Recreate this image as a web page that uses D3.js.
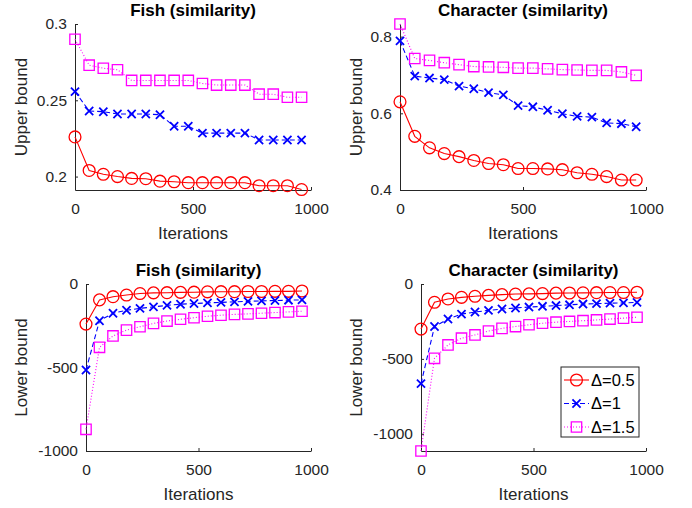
<!DOCTYPE html>
<html>
<head>
<meta charset="utf-8">
<script src="https://cdn.jsdelivr.net/npm/d3@7"></script>
<style>
  body { margin: 0; background: #fff; }
  svg { display: block; font-family: "Liberation Sans", Arial, Helvetica, sans-serif; }
</style>
</head>
<body>
<svg id="chart" width="692" height="508"></svg>
<script>
// x positions of the markers (iterations)
const iterations = [0, 60, 120, 180, 240, 300, 360, 420, 480, 540, 600, 660, 720, 780, 840, 900, 960];
const xTicks = [0, 500, 1000];
const deltaLabels = ["\u0394=0.5", "\u0394=1", "\u0394=1.5"];

// Fish (similarity), upper bound
const fishUpper05 = [0.226, 0.204, 0.2015, 0.2, 0.1988, 0.1986, 0.197, 0.1966, 0.196, 0.196, 0.196, 0.196, 0.196, 0.194, 0.194, 0.194, 0.1915];
const fishUpper1 = [0.2557, 0.243, 0.2425, 0.241, 0.241, 0.241, 0.2405, 0.233, 0.233, 0.2285, 0.2285, 0.2285, 0.2285, 0.224, 0.224, 0.224, 0.224];
const fishUpper15 = [0.290, 0.273, 0.271, 0.270, 0.263, 0.263, 0.263, 0.263, 0.263, 0.261, 0.260, 0.260, 0.260, 0.254, 0.254, 0.252, 0.252];

// Character (similarity), upper bound
const charUpper05 = [0.630, 0.540, 0.510, 0.495, 0.487, 0.477, 0.469, 0.466, 0.456, 0.456, 0.455, 0.453, 0.445, 0.441, 0.435, 0.426, 0.426];
const charUpper1 = [0.789, 0.697, 0.692, 0.688, 0.671, 0.664, 0.654, 0.648, 0.620, 0.617, 0.608, 0.599, 0.592, 0.590, 0.575, 0.573, 0.565];
const charUpper15 = [0.833, 0.743, 0.738, 0.732, 0.727, 0.722, 0.721, 0.720, 0.718, 0.718, 0.716, 0.714, 0.713, 0.712, 0.712, 0.708, 0.699];

// Fish (similarity), lower bound
const fishLower05 = [-240, -95, -76, -66, -57, -53, -52, -50, -49, -47, -46, -46, -45, -45, -44, -44, -42];
const fishLower1 = [-515, -220, -175, -157, -146, -137, -128, -121, -117, -113, -110, -107, -104, -101, -99, -97, -95];
const fishLower15 = [-870, -379, -311, -276, -256, -236, -222, -211, -202, -193, -187, -182, -179, -175, -171, -167, -163];

// Character (similarity), lower bound
const charLower05 = [-301, -122, -100, -89, -82, -76, -71, -67, -66, -64, -61, -60, -59, -58, -57, -57, -55];
const charLower1 = [-665, -284, -234, -201, -187, -176, -167, -160, -154, -149, -144, -139, -134, -131, -128, -126, -123];
const charLower15 = [-1115, -496, -407, -362, -340, -314, -296, -284, -272, -262, -255, -250, -245, -240, -234, -228, -222];

const axisColor = "#262626";

// simple "x" marker for d3.symbol
const symbolCross = {
  draw(ctx, size) {
    const r = Math.sqrt(size) / 2;
    ctx.moveTo(-r, -r); ctx.lineTo(r, r);
    ctx.moveTo(-r, r); ctx.lineTo(r, -r);
  }
};

const styles = [
  { color: "#ff0000", dash: null, symbol: d3.symbolCircle, size: 110 },
  { color: "#0000ff", dash: "5,3", symbol: symbolCross, size: 66 },
  { color: "#ff00ff", dash: "1,2", symbol: d3.symbolSquare, size: 108 }
];

const panels = [
  { title: "Fish (similarity)", ylabel: "Upper bound", series: [fishUpper05, fishUpper1, fishUpper15],
    yDomain: [0.1912, 0.3], yTicks: [0.2, 0.25, 0.3],
    box: { left: 75, right: 311, top: 24, bottom: 190 }, labelX: 26.5 },
  { title: "Character (similarity)", ylabel: "Upper bound", series: [charUpper05, charUpper1, charUpper15],
    yDomain: [0.4, 0.833], yTicks: [0.4, 0.6, 0.8],
    box: { left: 400, right: 646, top: 24, bottom: 190 }, labelX: 362 },
  { title: "Fish (similarity)", ylabel: "Lower bound", series: [fishLower05, fishLower1, fishLower15],
    yDomain: [-1000, 0], yTicks: [-1000, -500, 0],
    box: { left: 86, right: 311, top: 284, bottom: 451 }, labelX: 26.5 },
  { title: "Character (similarity)", ylabel: "Lower bound", series: [charLower05, charLower1, charLower15],
    yDomain: [-1115, 0], yTicks: [-1000, -500, 0],
    box: { left: 421, right: 646, top: 284, bottom: 451 }, labelX: 362, legend: true }
];

const svg = d3.select("#chart");

panels.forEach(p => {
  const b = p.box;
  const x = d3.scaleLinear().domain([0, 1000]).range([b.left, b.right]);
  const y = d3.scaleLinear().domain(p.yDomain).range([b.bottom, b.top]);
  const g = svg.append("g");

  // axes (MATLAB style: box off, ticks pointing in)
  const xAxis = g.append("g")
    .attr("transform", `translate(0,${b.bottom})`)
    .call(d3.axisBottom(x).tickValues(xTicks).tickSize(-3).tickSizeOuter(0).tickPadding(13).tickFormat(d => String(d)));
  const yAxis = g.append("g")
    .attr("transform", `translate(${b.left},0)`)
    .call(d3.axisLeft(y).tickValues(p.yTicks).tickSize(-3).tickSizeOuter(0).tickPadding(8).tickFormat(d => String(d)));

  [xAxis, yAxis].forEach(a => {
    a.attr("font-family", null).attr("font-size", null);
    a.select(".domain").attr("stroke", axisColor);
    a.selectAll(".tick line").attr("stroke", axisColor);
    a.selectAll(".tick text").attr("fill", axisColor).style("font-size", "15.5px");
  });

  // lines + markers
  p.series.forEach((vals, i) => {
    const s = styles[i];
    const pts = iterations.map((it, k) => [x(it), y(vals[k])]);
    g.append("path")
      .attr("d", d3.line()(pts))
      .attr("fill", "none")
      .attr("stroke", s.color)
      .attr("stroke-width", 1.1)
      .attr("stroke-dasharray", s.dash);
    g.selectAll(null)
      .data(pts)
      .join("path")
      .attr("transform", d => `translate(${d[0]},${d[1]})`)
      .attr("d", d3.symbol().type(s.symbol).size(s.size))
      .attr("fill", "none")
      .attr("stroke", s.color)
      .attr("stroke-width", s.symbol === symbolCross ? 1.8 : 1.3);
  });

  // title and axis labels
  g.append("text")
    .attr("x", (b.left + b.right) / 2)
    .attr("y", b.top - 8)
    .attr("text-anchor", "middle")
    .attr("font-weight", "bold")
    .style("font-size", "17px")
    .attr("fill", "#000")
    .text(p.title);

  g.append("text")
    .attr("x", (b.left + b.right) / 2)
    .attr("y", b.bottom + 49)
    .attr("text-anchor", "middle")
    .style("font-size", "17px")
    .attr("fill", axisColor)
    .text("Iterations");

  g.append("text")
    .attr("transform", `translate(${p.labelX},${(b.top + b.bottom) / 2}) rotate(-90)`)
    .attr("text-anchor", "middle")
    .style("font-size", "17px")
    .attr("fill", axisColor)
    .text(p.ylabel);

  if (p.legend) {
    const lg = g.append("g").attr("transform", "translate(561,367)");
    lg.append("rect")
      .attr("width", 78).attr("height", 70)
      .attr("fill", "#fff").attr("stroke", axisColor).attr("stroke-width", 1);
    deltaLabels.forEach((label, i) => {
      const s = styles[i];
      const row = lg.append("g").attr("transform", `translate(0,${13 + i * 23.5})`);
      row.append("line")
        .attr("x1", 3).attr("x2", 28)
        .attr("stroke", s.color).attr("stroke-width", 1.1)
        .attr("stroke-dasharray", s.dash);
      row.append("path")
        .attr("transform", "translate(15.5,0)")
        .attr("d", d3.symbol().type(s.symbol).size(s.size))
        .attr("fill", "none").attr("stroke", s.color)
        .attr("stroke-width", s.symbol === symbolCross ? 1.8 : 1.3);
      row.append("text")
        .attr("x", 30).attr("dy", "0.35em")
        .style("font-size", "16.5px")
        .attr("fill", "#000")
        .text(label);
    });
  }
});
</script>
</body>
</html>
